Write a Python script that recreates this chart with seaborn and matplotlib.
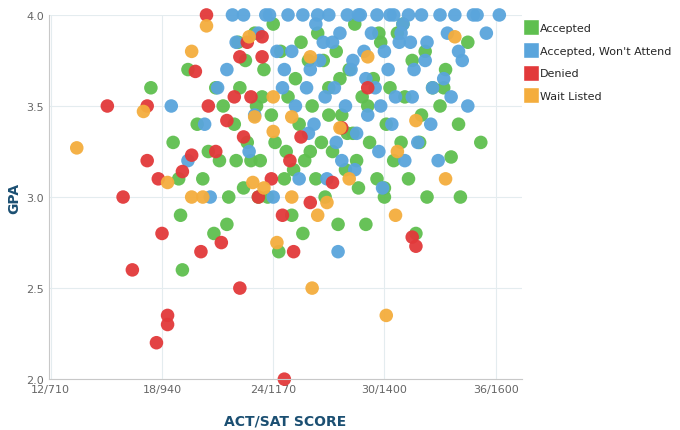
import numpy as np
import pandas as pd
import seaborn as sns
import matplotlib.pyplot as plt
from matplotlib.lines import Line2D

acc_act = [17.4, 18.6, 19.1, 19.4, 19.9, 20.2, 20.5, 20.8, 21.1, 21.3,
           21.6, 21.9, 22.0, 22.2, 22.4, 22.6, 22.8, 23.0, 23.1, 23.3,
           23.5, 23.7, 23.9, 24.1, 24.3, 24.4, 24.6, 24.8, 25.0, 25.2,
           25.4, 25.6, 25.7, 25.9, 26.1, 26.3, 26.4, 26.6, 26.8, 27.0,
           27.2, 27.4, 27.5, 27.7, 27.9, 28.1, 28.3, 28.4, 28.6, 28.8,
           29.0, 29.2, 29.4, 29.6, 29.8, 30.0, 30.1, 30.3, 30.5, 30.7,
           30.9, 31.1, 31.3, 31.5, 31.7, 32.0, 32.3, 32.6, 33.0, 33.3,
           33.6, 34.0, 34.5, 35.2, 22.5, 24.0, 25.5, 27.0, 28.5, 30.0,
           20.9, 22.1, 23.4, 26.0, 27.6, 29.1, 31.0, 32.2, 33.2, 34.1,
           19.0, 24.7, 26.7, 28.0, 29.7, 31.9, 25.1, 23.2, 21.5, 18.9]
acc_gpa = [3.60, 3.30, 2.60, 3.70, 3.40, 3.10, 3.25, 2.80, 3.20, 3.50,
           3.00, 3.40, 3.20, 3.60, 3.05, 3.30, 3.20, 3.90, 3.50, 3.20,
           3.70, 3.00, 3.45, 3.30, 2.70, 3.80, 3.10, 3.55, 2.90, 3.65,
           3.40, 2.80, 3.20, 3.75, 3.50, 3.10, 3.90, 3.30, 3.00, 3.60,
           3.25, 3.80, 2.85, 3.45, 3.15, 3.70, 3.35, 3.95, 3.05, 3.55,
           2.85, 3.30, 3.65, 3.10, 3.85, 3.00, 3.40, 3.60, 3.20, 3.90,
           3.30, 3.55, 3.10, 3.75, 2.80, 3.45, 3.00, 3.60, 3.50, 3.70,
           3.22, 3.40, 3.85, 3.30, 3.75, 3.95, 3.85, 3.45, 3.20, 3.05,
           3.60, 3.85, 3.55, 3.25, 3.65, 3.50, 3.95, 3.80, 3.60, 3.00,
           2.90, 3.25, 3.75, 3.35, 3.90, 3.30, 3.15, 3.00, 2.85, 3.10]

wont_act = [18.5, 19.4, 20.3, 21.0, 21.8, 22.4, 23.0, 23.6, 24.2, 24.8,
            25.2, 25.6, 26.0, 26.3, 26.7, 27.0, 27.3, 27.6, 28.0, 28.3,
            28.6, 29.0, 29.3, 29.6, 30.0, 30.3, 30.6, 31.0, 31.3, 31.6,
            32.0, 32.3, 32.6, 33.0, 33.4, 33.8, 34.2, 34.8, 35.5, 36.2,
            26.2, 26.8, 27.4, 27.9, 28.5, 29.1, 29.7, 30.4, 31.1, 31.8,
            25.0, 25.8, 26.5, 27.2, 28.2, 28.9, 29.5, 30.2, 30.8, 32.5,
            22.0, 23.2, 24.5, 26.9, 27.7, 28.4, 29.8, 31.5, 32.9, 33.6,
            20.6, 21.5, 22.7, 24.0, 25.4, 27.5, 29.9, 30.9, 32.2, 34.5,
            23.8, 24.6, 26.4, 28.7, 30.5, 31.4, 33.2, 34.0, 35.0, 25.9]
wont_gpa = [3.50, 3.20, 3.40, 3.60, 4.00, 4.00, 3.45, 4.00, 3.80, 4.00,
            3.50, 4.00, 3.70, 3.95, 3.85, 4.00, 3.60, 3.90, 4.00, 3.75,
            4.00, 3.65, 3.90, 4.00, 3.80, 4.00, 3.55, 3.95, 4.00, 3.70,
            4.00, 3.85, 3.60, 4.00, 3.90, 4.00, 3.75, 4.00, 3.90, 4.00,
            3.40, 3.55, 3.30, 3.50, 3.35, 3.45, 3.25, 3.40, 3.20, 3.30,
            3.80, 3.60, 3.75, 3.85, 3.70, 3.80, 3.60, 3.70, 3.85, 3.40,
            3.85, 3.90, 3.60, 3.10, 3.20, 3.15, 3.50, 3.55, 3.20, 3.55,
            3.00, 3.70, 3.25, 3.00, 3.10, 2.70, 3.05, 3.90, 3.75, 3.50,
            4.00, 3.70, 4.00, 4.00, 4.00, 3.85, 3.65, 3.80, 4.00, 3.35]

den_act = [15.05, 15.9, 16.4, 17.2, 17.7, 18.0, 18.3, 18.3, 17.8, 17.2,
           19.1, 19.6, 19.8, 20.1, 20.4, 20.5, 20.9, 21.2, 21.5, 22.2,
           22.2, 21.9, 22.4, 22.8, 23.2, 23.4, 23.9, 24.6, 24.5, 25.1,
           25.5, 26.0, 27.2, 27.7, 29.1, 31.5, 31.7, 23.4, 22.6, 24.9]
den_gpa = [3.50, 3.00, 2.60, 3.50, 2.20, 2.80, 2.35, 2.30, 3.10, 3.20,
           3.14, 3.23, 3.69, 2.70, 4.00, 3.50, 3.25, 2.75, 3.42, 2.50,
           3.77, 3.55, 3.33, 3.55, 3.00, 3.77, 3.10, 2.00, 2.90, 2.70,
           3.33, 2.97, 3.08, 3.38, 3.60, 2.78, 2.73, 3.88, 3.85, 3.20]

wl_act = [13.4, 17.0, 18.3, 19.6, 20.2, 20.4, 19.6, 22.7, 22.9, 23.5,
          24.0, 24.2, 25.0, 26.1, 26.4, 26.9, 27.6, 28.1, 30.1, 30.6,
          30.7, 31.7, 33.3, 33.8, 25.0, 24.0, 23.0, 26.0, 29.1]
wl_gpa = [3.27, 3.47, 3.08, 3.00, 3.00, 3.94, 3.80, 3.88, 3.08, 3.05,
          3.36, 2.75, 3.00, 2.50, 2.90, 2.97, 3.38, 3.10, 2.35, 2.90,
          3.25, 3.42, 3.10, 3.88, 3.44, 3.55, 3.44, 3.77, 3.77]

groups = ["Accepted", "Accepted, Won't Attend", "Denied", "Wait Listed"]
colors = ["#5fbf4f", "#5aa5dc", "#e2393a", "#f4ad3d"]
xticks = [12, 18, 24, 30, 36]
xtick_labels = ["12/710", "18/940", "24/1170", "30/1400", "36/1600"]

df = pd.concat([
    pd.DataFrame({"act": acc_act, "gpa": acc_gpa, "status": groups[0]}),
    pd.DataFrame({"act": wont_act, "gpa": wont_gpa, "status": groups[1]}),
    pd.DataFrame({"act": den_act, "gpa": den_gpa, "status": groups[2]}),
    pd.DataFrame({"act": wl_act, "gpa": wl_gpa, "status": groups[3]}),
])

sns.set_style("white")
fig = plt.figure(figsize=(6.8, 4.31), dpi=100)
ax = fig.add_axes([0.072, 0.118, 0.695, 0.845])
sns.scatterplot(data=df, x="act", y="gpa", hue="status", hue_order=groups,
                palette=colors, s=95, linewidth=0, alpha=0.95, ax=ax,
                legend=False, clip_on=False)

ax.set_xlim(11.9, 37.4)
ax.set_ylim(2.0, 4.0)
ax.set_xticks(xticks)
ax.set_xticklabels(xtick_labels)
ax.set_yticks([2.0, 2.5, 3.0, 3.5, 4.0])
ax.grid(True, color="#e4ecef", linewidth=0.8)
ax.set_axisbelow(True)
for side in ["top", "right"]:
    ax.spines[side].set_visible(False)
for side in ["left", "bottom"]:
    ax.spines[side].set_color("#c8c8c8")
ax.tick_params(colors="#666666", labelsize=8, length=0)
ax.set_xlabel("ACT/SAT SCORE", fontsize=10, fontweight="bold", color="#1b4f72", labelpad=14)
ax.set_ylabel("GPA", fontsize=10, fontweight="bold", color="#1b4f72", labelpad=4)

handles = [Line2D([0], [0], marker="s", color="w", markerfacecolor=c, markersize=11)
           for c in colors]
fig.legend(handles, groups, loc="upper left", bbox_to_anchor=(0.765, 0.955),
           frameon=False, fontsize=8, labelspacing=1.15, handletextpad=0.2,
           handlelength=1.2, borderaxespad=0)

fig.savefig("out.png", dpi=100)
